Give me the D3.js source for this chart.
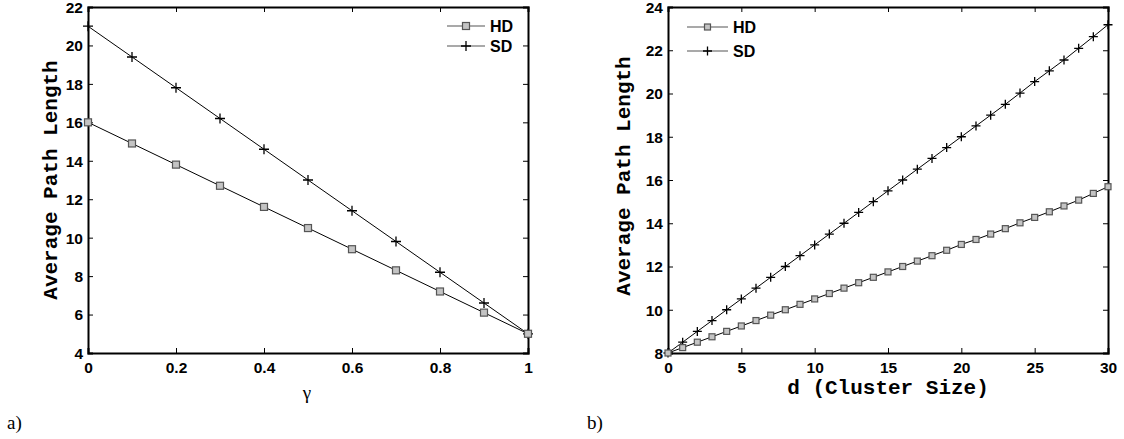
<!DOCTYPE html>
<html><head><meta charset="utf-8">
<script src="https://cdn.jsdelivr.net/npm/d3@7"></script>
<style>body{margin:0;background:#fff}svg{display:block}</style>
</head><body>
<svg id="c" width="1124" height="439"></svg>
<script>
// ---- data ----
const gammaX = [0,0.1,0.2,0.3,0.4,0.5,0.6,0.7,0.8,0.9,1];
const hdA = [16,14.9,13.8,12.7,11.6,10.5,9.4,8.3,7.2,6.1,5];
const sdA = [21,19.4,17.8,16.2,14.6,13,11.4,9.8,8.2,6.6,5];
const leftXTicks = [0,0.2,0.4,0.6,0.8,1];
const leftYTicks = [4,6,8,10,12,14,16,18,20,22];

const dX = [0,1,2,3,4,5,6,7,8,9,10,11,12,13,14,15,16,17,18,19,20,21,22,23,24,25,26,27,28,29,30];
const hdB = [8,8.25,8.5,8.75,9,9.25,9.5,9.75,10,10.25,10.5,10.75,11,11.25,11.5,11.75,12,12.25,12.5,12.75,13.02,13.25,13.5,13.75,14.02,14.27,14.53,14.8,15.07,15.38,15.69];
const sdB = [8,8.5,9,9.5,10,10.5,11,11.5,12,12.5,13,13.5,14,14.5,15,15.5,16,16.5,17,17.5,18,18.5,19,19.5,20.02,20.55,21.05,21.55,22.09,22.63,23.18];
const rightXTicks = [0,5,10,15,20,25,30];
const rightYTicks = [8,10,12,14,16,18,20,22,24];
const seriesNames = ["HD","SD"];

const svg = d3.select("#c");
const tickFont = "'Liberation Sans', Arial, sans-serif";
const monoFont = "'Liberation Mono', 'Courier New', monospace";

function panel(opt){
  const g = svg.append("g");
  const x = d3.scaleLinear().domain(opt.xd).range([opt.x0, opt.x1]);
  const y = d3.scaleLinear().domain(opt.yd).range([opt.y1, opt.y0]);
  const tl = 5;
  const ax = g.append("g").attr("transform",`translate(0,${opt.y1})`)
    .call(d3.axisBottom(x).tickValues(opt.xt).tickSize(-tl).tickPadding(9).tickFormat(d=>d3.format("")(d)));
  const axT = g.append("g").attr("transform",`translate(0,${opt.y0})`)
    .call(d3.axisTop(x).tickValues(opt.xt).tickSize(-tl).tickFormat(""));
  const ay = g.append("g").attr("transform",`translate(${opt.x0},0)`)
    .call(d3.axisLeft(y).tickValues(opt.yt).tickSize(-tl).tickPadding(5));
  const ayR = g.append("g").attr("transform",`translate(${opt.x1},0)`)
    .call(d3.axisRight(y).tickValues(opt.yt).tickSize(-tl).tickFormat(""));
  [ax,axT,ay,ayR].forEach(a=>{
    a.select(".domain").attr("stroke","#000").attr("stroke-width",2);
    a.selectAll(".tick line").attr("stroke","#000").attr("stroke-width",1);
    a.selectAll(".tick text").attr("font-family",tickFont).attr("font-weight","bold")
      .attr("font-size",15.5).attr("fill","#000");
  });
  ay.selectAll(".tick text").attr("dy","0.35em");
  const line = d3.line().x(d=>x(d[0])).y(d=>y(d[1]));
  const hd = opt.xs.map((v,i)=>[v,opt.hd[i]]);
  const sd = opt.xs.map((v,i)=>[v,opt.sd[i]]);
  g.append("path").datum(sd).attr("d",line).attr("fill","none").attr("stroke","#000").attr("stroke-width",1);
  g.append("path").datum(hd).attr("d",line).attr("fill","none").attr("stroke","#000").attr("stroke-width",1);
  const ps = opt.plus/2;
  g.selectAll(".pl").data(sd).enter().append("path")
    .attr("d",d=>`M${x(d[0])-ps},${y(d[1])}H${x(d[0])+ps}M${x(d[0])},${y(d[1])-ps}V${y(d[1])+ps}`)
    .attr("stroke","#000").attr("stroke-width",1.3);
  const s = opt.sq;
  g.selectAll(".sq").data(hd).enter().append("rect")
    .attr("x",d=>x(d[0])-s/2).attr("y",d=>y(d[1])-s/2).attr("width",s).attr("height",s)
    .attr("fill","#c4c4c4").attr("stroke","#555").attr("stroke-width",1.2);
  const lg = g.append("g");
  seriesNames.forEach((n,i)=>{
    const ly = opt.ly[i];
    lg.append("line").attr("x1",opt.lx0).attr("x2",opt.lx1).attr("y1",ly).attr("y2",ly)
      .attr("stroke","#555").attr("stroke-width",1.2);
    const cx = (opt.lx0+opt.lx1)/2;
    if(i===0){
      lg.append("rect").attr("x",cx-s/2).attr("y",ly-s/2).attr("width",s).attr("height",s)
        .attr("fill","#c4c4c4").attr("stroke","#555").attr("stroke-width",1.2);
    } else {
      lg.append("path").attr("d",`M${cx-ps},${ly}H${cx+ps}M${cx},${ly-ps}V${ly+ps}`)
        .attr("stroke","#000").attr("stroke-width",1.3);
    }
    lg.append("text").attr("x",opt.lx1+5).attr("y",ly).attr("dy","0.35em")
      .attr("font-family",tickFont).attr("font-weight","bold").attr("font-size",16).text(n);
  });
  g.append("text").attr("transform",`translate(${opt.ylx},${opt.ylc}) rotate(-90)`)
    .attr("text-anchor","middle").attr("dy","0.35em").attr("font-family",monoFont)
    .attr("font-weight","bold").attr("font-size",21).text("Average Path Length");
  return {x,y,g};
}

panel({x0:88,x1:528,y0:7,y1:353,xd:[0,1],yd:[4,22],xt:leftXTicks,yt:leftYTicks,
  xs:gammaX,hd:hdA,sd:sdA,sq:7,plus:10,lx0:447,lx1:485,ly:[26,46],ylx:50,ylc:180});
panel({x0:668,x1:1108,y0:7,y1:353,xd:[0,30],yd:[8,24],xt:rightXTicks,yt:rightYTicks,
  xs:dX,hd:hdB,sd:sdB,sq:6,plus:9,lx0:687,lx1:728,ly:[27,51],ylx:623,ylc:176});

svg.append("text").attr("x",307).attr("y",392).attr("dy","0.35em").attr("text-anchor","middle")
  .attr("font-family","'Liberation Serif', 'Times New Roman', serif").attr("font-size",19).text("γ");
svg.append("text").attr("x",888).attr("y",387).attr("dy","0.35em").attr("text-anchor","middle")
  .attr("font-family",monoFont).attr("font-weight","bold").attr("font-size",21).text("d (Cluster Size)");
svg.append("text").attr("x",7).attr("y",422).attr("dy","0.35em")
  .attr("font-family","'Liberation Serif', 'Times New Roman', serif").attr("font-size",19).text("a)");
svg.append("text").attr("x",587).attr("y",422).attr("dy","0.35em")
  .attr("font-family","'Liberation Serif', 'Times New Roman', serif").attr("font-size",19).text("b)");
</script>
</body></html>
